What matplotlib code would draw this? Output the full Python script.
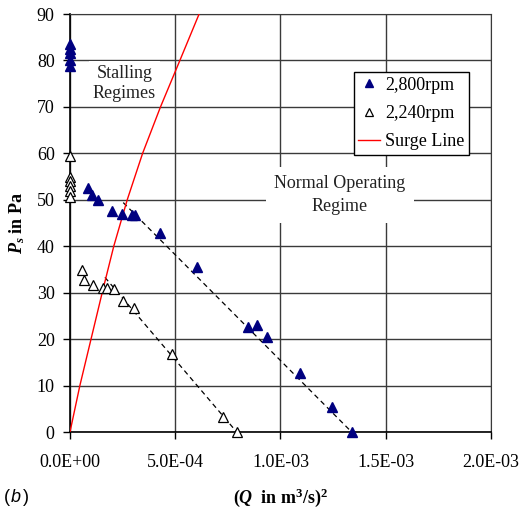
import numpy as np
import matplotlib.pyplot as plt

# fuentes tipo Times para todo el grafico
plt.rcParams['font.family'] = 'Liberation Serif'
plt.rcParams['mathtext.fontset'] = 'custom'
plt.rcParams['mathtext.rm'] = 'Liberation Serif:bold'
plt.rcParams['mathtext.it'] = 'Liberation Serif:italic:bold'
plt.rcParams['mathtext.bf'] = 'Liberation Serif:bold'

# datos 2,800 rpm
q2_2800 = [0, 0, 0, 0, 0,
           8.7e-5, 1.03e-4, 1.35e-4, 2.0e-4, 2.45e-4, 2.96e-4, 3.1e-4,
           4.26e-4, 6.02e-4, 8.47e-4, 8.87e-4, 9.34e-4, 1.093e-3, 1.243e-3, 1.338e-3]
ps_2800 = [83.5, 82.5, 81.5, 80.0, 78.8,
           52.5, 51.0, 50.0, 47.6, 46.9, 46.7, 46.7,
           42.9, 35.5, 22.7, 23.0, 20.4, 12.8, 5.4, 0.0]

# datos 2,240 rpm
q2_2240 = [0, 0, 0, 0, 0, 0,
           5.5e-5, 6.8e-5, 1.11e-4, 1.55e-4, 1.74e-4, 2.09e-4, 2.53e-4, 3.04e-4,
           4.86e-4, 7.28e-4, 7.92e-4]
ps_2240 = [59.5, 55.0, 54.0, 53.0, 52.0, 50.5,
           34.9, 32.7, 31.7, 30.9, 31.1, 30.7, 28.1, 26.6,
           16.8, 3.2, 0.0]

# lineas de tendencia (punteadas)
trend_2800_x = [2.53e-4, 1.338e-3]
trend_2800_y = [49.4, 0.0]
trend_2240_x = [1.66e-4, 7.92e-4]
trend_2240_y = [33.3, 0.0]

# linea de surge
surge_x = [0, 4.7e-5, 1.0e-4, 1.53e-4, 2.08e-4, 2.72e-4, 3.45e-4, 4.30e-4, 5.22e-4, 6.18e-4]
surge_y = [0, 10, 20, 30, 40, 50, 60, 70, 80, 90.5]

xticks = [0, 5e-4, 1e-3, 1.5e-3, 2e-3]
xtick_labels = ['0.0E+00', '5.0E-04', '1.0E-03', '1.5E-03', '2.0E-03']
yticks = list(range(0, 100, 10))

fig = plt.figure(figsize=(5.23, 5.08), dpi=100)
ax = fig.add_axes([0.1338, 0.1496, 0.805, 0.8228])

ax.plot(trend_2800_x, trend_2800_y, '--', color='black', lw=0.9, dashes=(4, 3), zorder=3)
ax.plot(trend_2240_x, trend_2240_y, '--', color='black', lw=0.9, dashes=(4, 3), zorder=3)
ax.plot(q2_2800, ps_2800, '^', color='#000080', ms=7.5, mec='#000080', ls='none',
        label='2,800rpm', zorder=4, clip_on=False)
ax.plot(q2_2240, ps_2240, '^', mfc='white', mec='black', mew=0.9, ms=7.5, ls='none',
        label='2,240rpm', zorder=4, clip_on=False)
ax.plot(surge_x, surge_y, color='red', lw=1.0, label='Surge Line', zorder=3)

ax.set_xlim(0, 2e-3)
ax.set_ylim(0, 90)
ax.set_xticks(xticks)
ax.set_xticklabels(xtick_labels)
ax.set_yticks(yticks)
ax.tick_params(labelsize=13, direction='out', length=5, width=1, pad=6)
ax.tick_params(axis='x', pad=11)

ax.grid(True, color='#3a3a3a', lw=1.0)
ax.set_axisbelow(True)
for s in ['top', 'right']:
    ax.spines[s].set_color('#3a3a3a')
for s in ['left', 'bottom']:
    ax.spines[s].set_linewidth(1.2)

ax.set_ylabel(r'$P_s$ in Pa', fontsize=13, fontweight='bold', labelpad=7)
ax.set_xlabel(r'($Q$  in m$^3$/s)$^2$', fontsize=13, fontweight='bold', labelpad=11)

ax.text(2.59e-4, 75.0, 'Stalling\nRegimes', fontsize=13, ha='center', va='center',
        linespacing=1.2, color='#222222', zorder=2,
        bbox=dict(facecolor='white', edgecolor='none', pad=3))
ax.text(1.283e-3, 51.0, 'Normal Operating\nRegime', fontsize=13, ha='center', va='center',
        linespacing=1.45, color='#222222', zorder=2,
        bbox=dict(facecolor='white', edgecolor='none', pad=6))

leg = ax.legend(loc='upper right', bbox_to_anchor=(0.948, 0.861), borderaxespad=0,
                fontsize=13, fancybox=False, framealpha=1, edgecolor='black',
                handlelength=1.2, handletextpad=0.3, markerscale=0.8,
                borderpad=0.25, labelspacing=0.62)
leg.get_frame().set_linewidth(1.0)

# etiqueta (b) con la b en cursiva
fig.text(4 / 523, 0.012, '(', fontsize=13, family='Liberation Sans')
fig.text(11 / 523, 0.012, 'b', fontsize=13, family='Liberation Sans', style='italic')
fig.text(23 / 523, 0.012, ')', fontsize=13, family='Liberation Sans')

plt.savefig('out.png', dpi=100)
